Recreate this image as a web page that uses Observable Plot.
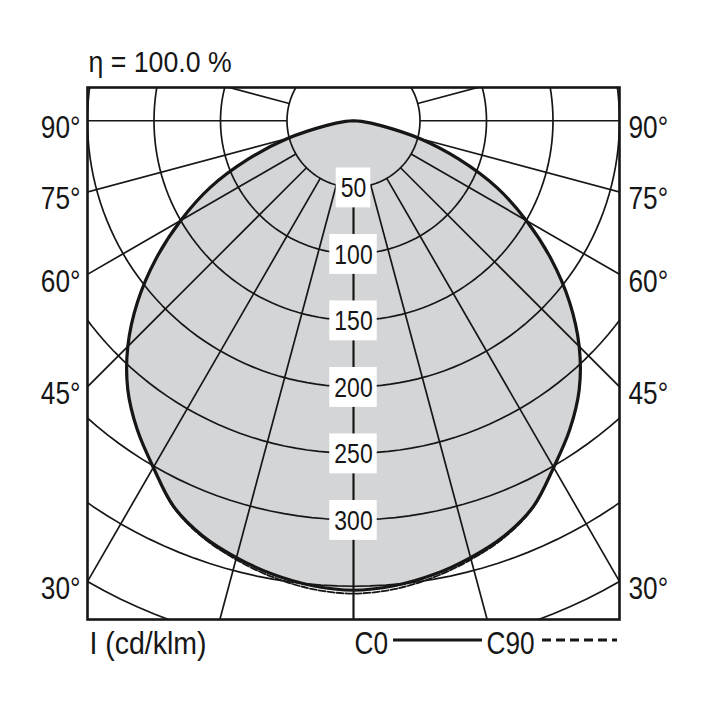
<!DOCTYPE html>
<html><head><meta charset="utf-8">
<script src="https://cdn.jsdelivr.net/npm/d3@7"></script>
<script src="https://cdn.jsdelivr.net/npm/@observablehq/plot@0.6"></script>
<style>html,body{margin:0;padding:0;background:#fff} svg{display:block}</style>
</head><body><div id="chart"></div>
<script>
// ---- data ----
const angles = [0, 5, 10, 15, 20, 25, 30, 35, 40, 45, 50, 55, 60, 65, 70, 75, 80, 85, 90];
const c0  = [353, 351, 346.5, 340, 332, 320, 301, 283.5, 264, 240, 212, 181.5, 150, 119, 84, 51, 21, 6, 0];
const c90 = [355.5, 353.5, 348.5, 341.5, 333, 320.5, 301, 283.5, 264, 240, 212, 181.5, 150, 119, 84, 51, 21, 6, 0];
const ringValues = [50, 100, 150, 200, 250, 300, 350, 400, 450];
const ringLabels = [50, 100, 150, 200, 250, 300];
const spokeAngles = [0, 15, 30, 45, 60, 75, 90, 105, 120, 135, 150, 165, 180];
const sideLabels = [90, 75, 60, 45, 30];
const title = "η = 100.0 %";
const unitLabel = "I (cd/klm)";
const legendNames = ["C0", "C90"];

const rad = Math.PI / 180;
const font = "'Liberation Sans', Arial, Helvetica, sans-serif";
const ink = "#161616";

function curvePoints(vals) {
  const pts = [];
  for (let i = angles.length - 1; i >= 0; i--) pts.push([-angles[i], vals[i]]);
  for (let i = 1; i < angles.length; i++) pts.push([angles[i], vals[i]]);
  return pts.map(([g, I]) => ({x: I * Math.sin(g * rad), y: -I * Math.cos(g * rad)}));
}
const c0Pts = curvePoints(c0);
const c90Pts = curvePoints(c90);

const ringPts = ringValues.flatMap(r => d3.range(0, 361, 2).map(t => ({r, x: r * Math.sin(t * rad), y: -r * Math.cos(t * rad)})));
const spokes = spokeAngles.flatMap(a => [1, -1].map(s => ({
  x1: s * 50 * Math.sin(a * rad), y1: -50 * Math.cos(a * rad),
  x2: s * 700 * Math.sin(a * rad), y2: -700 * Math.cos(a * rad)
})));
const sideY = d => d === 90 ? 0 : -200 / Math.tan(d * rad);
const boxHalf = d => (String(d).length * 12.8 + 9) / 2 / 1.33;

const legendMark = (index, scales, values, dim) => {
  const g = d3.create("svg:g");
  const cx = dim.marginLeft + (dim.width - dim.marginLeft - dim.marginRight) / 2;
  const y = dim.height - dim.marginBottom + 21;
  g.append("line").attr("x1", cx + 40).attr("x2", cx + 129).attr("y1", y).attr("y2", y)
    .attr("stroke", ink).attr("stroke-width", 3);
  g.append("line").attr("x1", cx + 189).attr("x2", cx + 264).attr("y1", y).attr("y2", y)
    .attr("stroke", ink).attr("stroke-width", 3).attr("stroke-dasharray", "9,5");
  return g.node();
};

const chart = Plot.plot({
  width: 708, height: 708,
  marginLeft: 87, marginRight: 89, marginTop: 87, marginBottom: 89,
  x: {domain: [-200, 200], axis: null},
  y: {domain: [-375, 25], axis: null},
  style: {fontFamily: font, background: "white", color: ink},
  marks: [
    Plot.line(c0Pts, {x: "x", y: "y", fill: "#d4d5d7", stroke: "none", curve: "catmull-rom", clip: true}),
    Plot.line(ringPts, {x: "x", y: "y", z: "r", stroke: ink, strokeWidth: 1.7, clip: true}),
    Plot.link(spokes, {x1: "x1", y1: "y1", x2: "x2", y2: "y2", stroke: ink, strokeWidth: 1.7, clip: true}),
    Plot.rect(ringLabels, {x1: d => -boxHalf(d), x2: d => boxHalf(d), y1: d => -d - 15.5, y2: d => -d + 14.5, fill: "white"}),
    Plot.text(ringLabels, {x: () => 0, y: d => -d, text: d => String(d), fontSize: 28, fill: ink, dy: 1, lineAnchor: "middle"}),
    Plot.line(c90Pts, {x: "x", y: "y", stroke: ink, strokeWidth: 1.8, strokeDasharray: "7,2", curve: "catmull-rom", clip: true}),
    Plot.line(c0Pts, {x: "x", y: "y", stroke: ink, strokeWidth: 3.2, curve: "catmull-rom", clip: true}),
    Plot.frame({stroke: ink, strokeWidth: 2.6}),
    Plot.text(sideLabels, {x: () => -200, y: sideY, text: d => d + "°", textAnchor: "end", dx: -7, dy: 7, fontSize: 32, fill: ink, lineAnchor: "middle"}),
    Plot.text(sideLabels, {x: () => 200, y: sideY, text: d => d + "°", textAnchor: "start", dx: 9, dy: 7, fontSize: 32, fill: ink, lineAnchor: "middle"}),
    Plot.text([title], {frameAnchor: "top-left", text: d => d, textAnchor: "start", lineAnchor: "middle", dx: 1, dy: -25, fontSize: 29, fill: ink}),
    Plot.text([unitLabel], {frameAnchor: "bottom-left", text: d => d, textAnchor: "start", lineAnchor: "middle", dx: 2, dy: 24, fontSize: 32, fill: ink}),
    Plot.text([legendNames[0]], {frameAnchor: "bottom", text: d => d, textAnchor: "start", lineAnchor: "middle", dx: 1, dy: 24, fontSize: 32, fill: ink}),
    Plot.text([legendNames[1]], {frameAnchor: "bottom", text: d => d, textAnchor: "start", lineAnchor: "middle", dx: 133, dy: 24, fontSize: 32, fill: ink}),
    legendMark
  ]
});

// condense the type horizontally (the original uses a condensed grotesque)
d3.select(chart).selectAll("text").each(function () {
  const s = this.textContent === title ? 0.92 : this.textContent === unitLabel ? 0.89 : 0.82;
  const x = +this.getAttribute("x") || 0;
  const t = this.getAttribute("transform") || "";
  this.setAttribute("transform", `${t} translate(${x},0) scale(${s},1) translate(${-x},0)`);
});
document.getElementById("chart").appendChild(chart);
</script>
</body></html>
